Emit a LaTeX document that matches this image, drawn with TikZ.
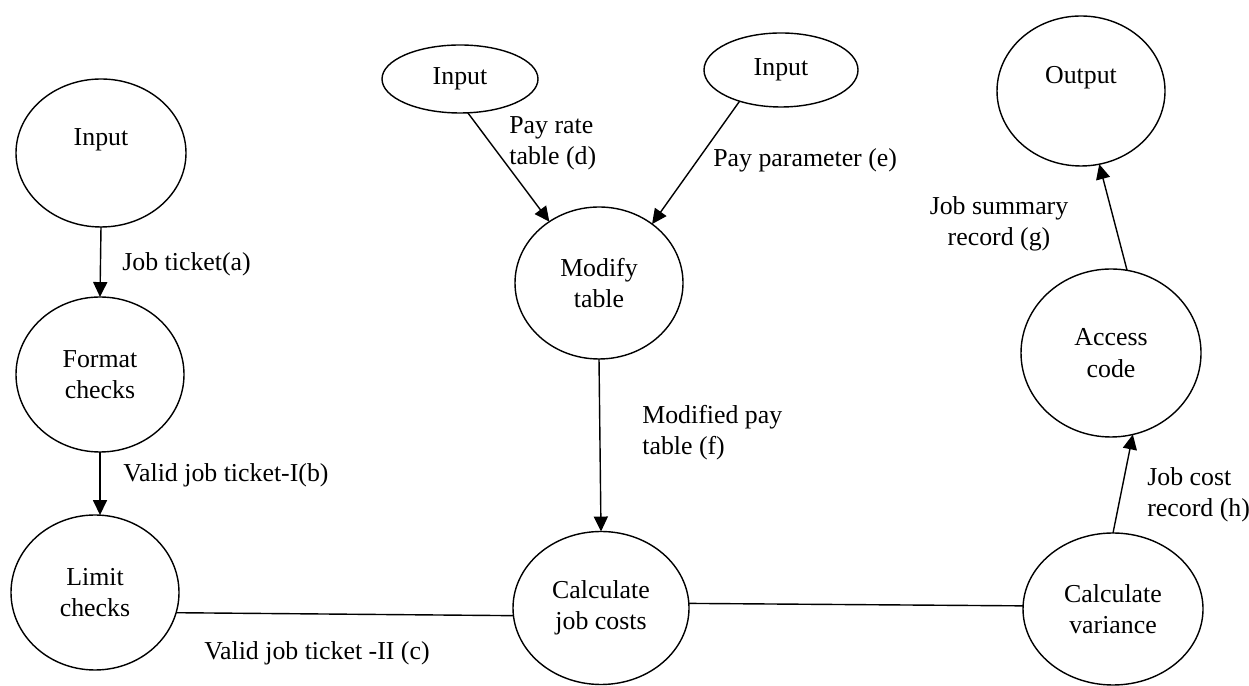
\documentclass[tikz,border=0pt]{standalone}
\usepackage{fontspec}
\setmainfont{Liberation Serif}
\usetikzlibrary {arrows.meta}
\usetikzlibrary {shapes.geometric}

\begin{document}
\begin{tikzpicture}[
        font=\fontsize{14.7}{17.8}\selectfont,
        proc/.style={draw, ellipse, line width=0.8pt, inner sep=0pt, outer sep=0pt, align=center},
        flow/.style={line width=0.8pt, -{Triangle[length=8.5pt, width=8pt]}},
        link/.style={line width=0.8pt},
        lbl/.style={inner sep=0pt, align=left}
    ]
        \useasboundingbox (0, 0) rectangle (24.98, 13.72);
        % 左列
        \node [proc, minimum width=3.4cm, minimum height=2.96cm] (inTicket) at (2.02, 10.66) {Input\\\mbox{}};
        \node [proc, minimum width=3.36cm, minimum height=3.1cm] (fmtChk) at (2.0, 6.23) {Format\\checks};
        \node [proc, minimum width=3.36cm, minimum height=3.1cm] (limChk) at (1.9, 1.87) {Limit\\checks};
        \draw [flow] (inTicket.south) -- (fmtChk.north);
        \draw [flow] (fmtChk.south) -- (fmtChk.south |- limChk.north);
        \node [lbl, anchor=west] (lblA) at (2.44, 8.44) {Job ticket(a)};
        \node [lbl, anchor=west] (lblB) at (2.46, 4.22) {Valid job ticket-I(b)};
        % 中央列
        \node [proc, minimum width=3.12cm, minimum height=1.36cm] (inRate) at (9.2, 12.14) {Input};
        \node [proc, minimum width=3.08cm, minimum height=1.48cm] (inParam) at (15.62, 12.32) {Input};
        \node [proc, minimum width=3.36cm, minimum height=3.04cm] (modTbl) at (11.98, 8.06) {Modify\\table};
        \node [proc, minimum width=3.52cm, minimum height=3.06cm] (calcCost) at (12.02, 1.56) {Calculate\\job costs};
        \draw [flow] (inRate.-77) -- (modTbl.129);
        \draw [flow] (inParam.-143) -- (modTbl.48);
        \draw [flow] (modTbl.south) -- (calcCost.north);
        \draw [link] (limChk.-14) -- (calcCost.-175);
        \node [lbl, anchor=west] (lblD) at (10.18, 10.85) {Pay rate\\table (d)};
        \node [lbl, anchor=west] (lblE) at (14.26, 10.52) {Pay parameter (e)};
        \node [lbl, anchor=west] (lblF) at (12.84, 5.07) {Modified pay\\table (f)};
        \node [lbl, anchor=west] (lblC) at (4.08, 0.66) {Valid job ticket -II (c)};
        % 右列
        \node [proc, minimum width=3.36cm, minimum height=3.0cm] (outRec) at (21.62, 11.9) {Output\\\mbox{}};
        \node [proc, minimum width=3.6cm, minimum height=3.36cm] (accCode) at (22.22, 6.66) {Access\\code};
        \node [proc, minimum width=3.6cm, minimum height=3.04cm] (calcVar) at (22.26, 1.54) {Calculate\\variance};
        \draw [link] (calcCost.3) -- (calcVar.178);
        \draw [flow] (calcVar.north) -- (accCode.-75);
        \draw [flow] (accCode.79) -- (outRec.-76);
        \node [lbl, align=center] (lblG) at (19.98, 9.24) {Job summary\\record (g)};
        \node [lbl, anchor=west] (lblH) at (22.94, 3.82) {Job cost\\record (h)};
\end{tikzpicture}
\end{document}
